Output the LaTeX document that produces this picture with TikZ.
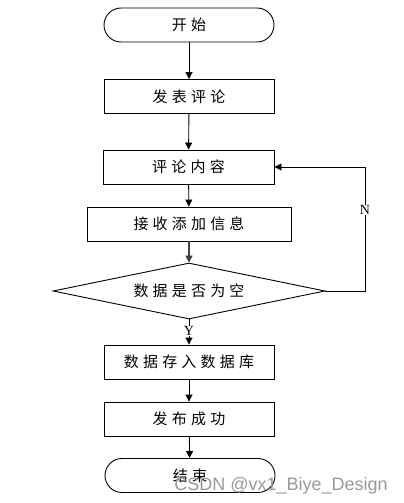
\documentclass[tikz,border=0pt]{standalone}
\usepackage{fontspec}
\newfontfamily\cjk[LetterSpace=28]{Noto Sans CJK SC}
\newfontfamily\yn{Liberation Serif}
\usetikzlibrary{arrows.meta,shapes.geometric}
\begin{document}
\begin{tikzpicture}[x=1pt,y=-1pt,
  every node/.style={font=\cjk\fontsize{15pt}{17pt}\selectfont},
  boxnode/.style={draw=black,line width=0.9pt,rectangle,minimum height=34pt,inner sep=0pt},
  termnode/.style={draw=black,line width=0.9pt,rectangle,rounded corners=17pt,minimum width=170pt,minimum height=34pt,inner sep=0pt},
  decnode/.style={draw=black,line width=0.9pt,diamond,aspect=4.86,minimum width=272pt,minimum height=56pt,inner sep=0pt},
  flow/.style={draw=black,line width=0.9pt,-{Triangle[width=7pt,length=7pt]}},
  lab/.style={font=\yn\fontsize{14pt}{16pt}\selectfont}]
\useasboundingbox (0,0) rectangle (404,503);
\node[termnode] (start) at (189,25) {开始};
\node[boxnode,minimum width=170pt] (post) at (189,96.5) {发表评论};
\node[boxnode,minimum width=171pt] (content) at (188.5,167) {评论内容};
\node[boxnode,minimum width=204pt] (recv) at (189,224) {接收添加信息};
\node[decnode] (check) at (189,291) {数据是否为空};
\node[boxnode,minimum width=170pt] (save) at (189,362) {数据存入数据库};
\node[boxnode,minimum width=170pt] (ok) at (189,419) {发布成功};
\node[termnode] (stop) at (190,475.5) {结束};
\coordinate (c1) at (365,291);
\coordinate (c2) at (365,167);
\draw[flow] (start) -- (post);
\draw[flow] (post) -- (content);
\draw[flow] (content) -- (recv);
\draw[flow,line width=1.6pt,draw=black!75] (recv) -- (check);
\draw[flow] (check) -- node[lab,pos=0.45,fill=white,inner sep=0.5pt] {Y} (save);
\draw[flow] (save) -- (ok);
\draw[flow] (ok) -- (stop);
\draw[flow] (check.east) -- (c1) -- node[lab,pos=0.65,fill=white,inner sep=0.5pt] {N} (c2) -- (content.east);
\node[font=\fontspec{Liberation Sans}\fontsize{18pt}{20pt}\selectfont,text=black!40,anchor=base east,inner sep=0pt] (wm) at (388,490) {CSDN @vx1\_Biye\_Design};
\end{tikzpicture}
\end{document}
